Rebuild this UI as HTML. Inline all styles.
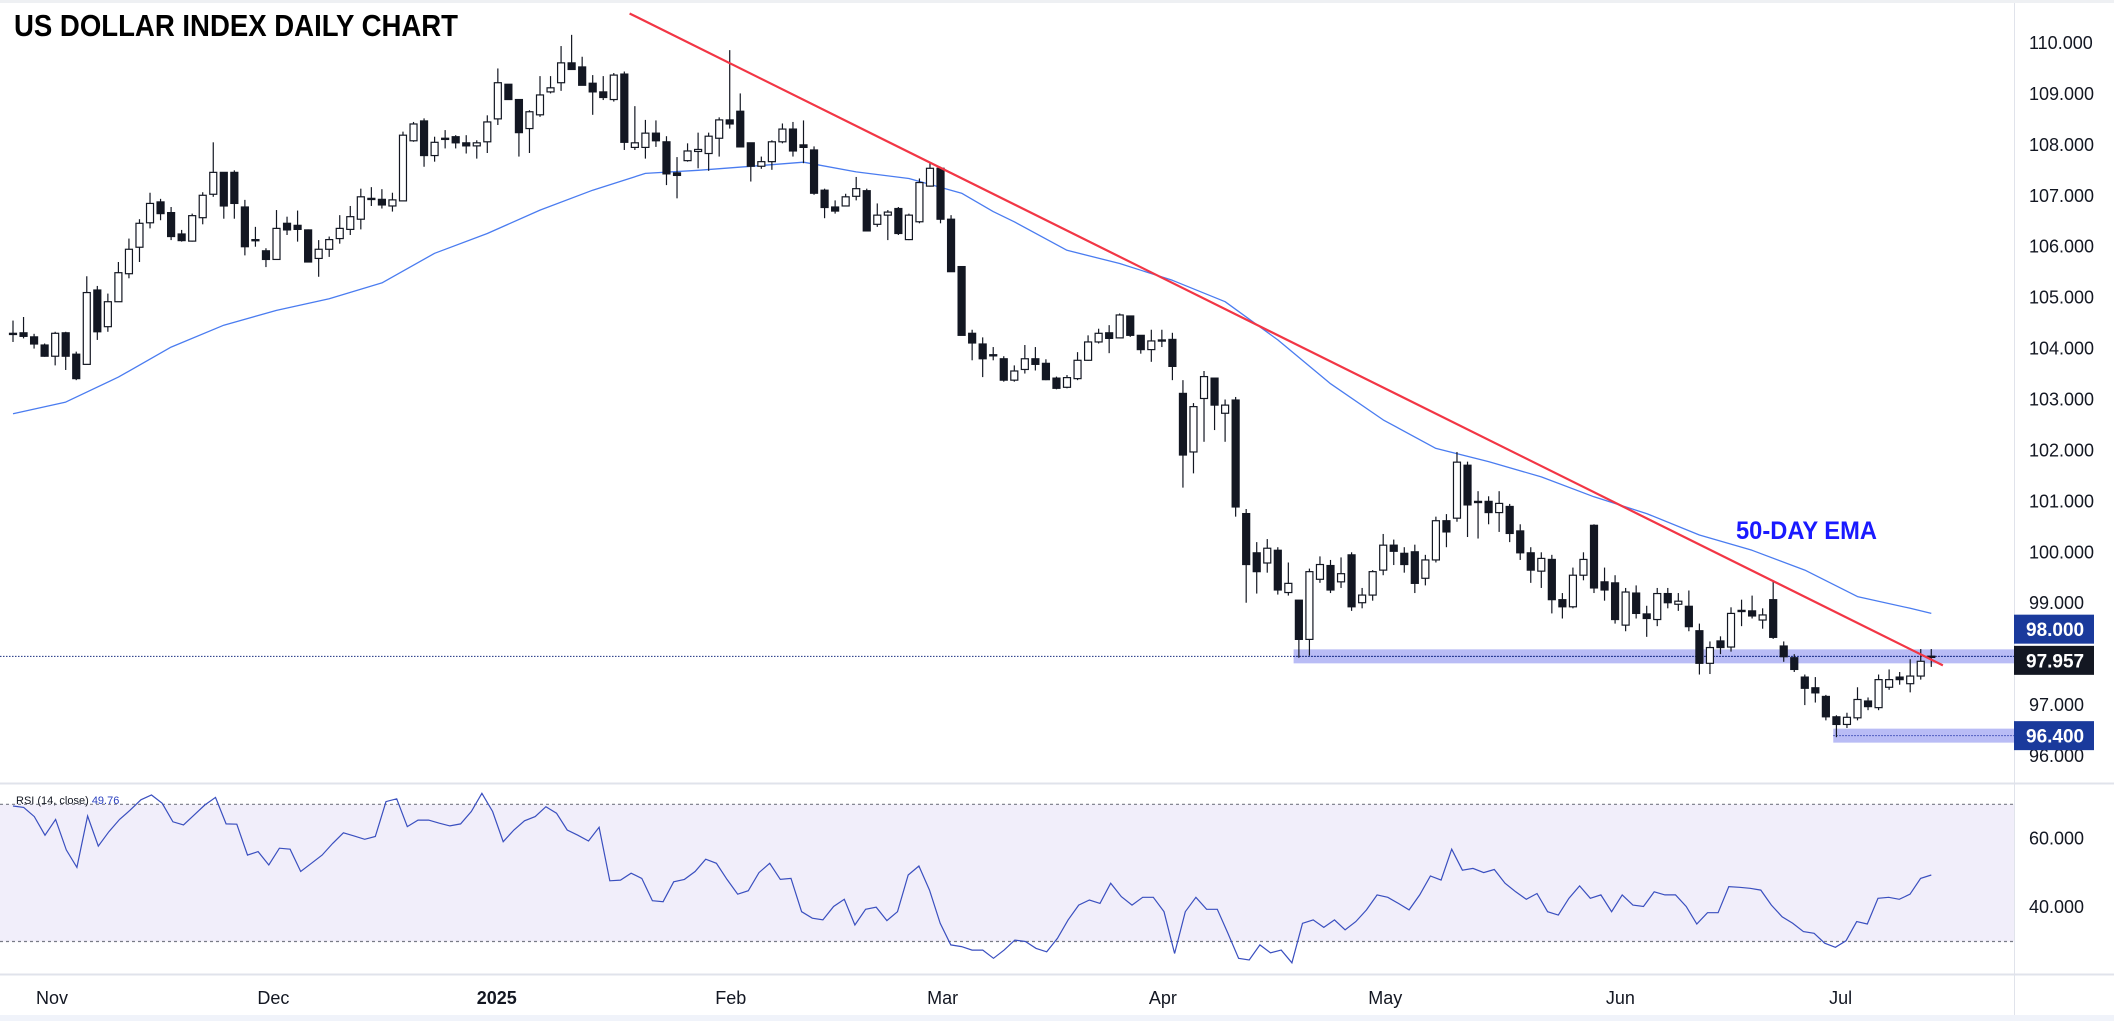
<!DOCTYPE html>
<html><head><meta charset="utf-8"><style>
html,body{margin:0;padding:0;background:#fff;width:2114px;height:1021px;overflow:hidden}
svg{display:block}
text{font-family:"Liberation Sans",sans-serif}
</style></head><body>
<svg id="chart" width="2114" height="1021" viewBox="0 0 2114 1021" xmlns="http://www.w3.org/2000/svg">
<rect x="0" y="0" width="2114" height="1021" fill="#fff"/>
<rect x="0" y="0" width="2114" height="3" fill="#eef0f3"/>
<rect x="0" y="1015" width="2114" height="6" fill="#f0f3fa"/>
<g id="rsiPane"></g>
<g id="pricePane"></g>
<line x1="0" y1="783.5" x2="2114" y2="783.5" stroke="#e0e3eb" stroke-width="2"/>
<line x1="0" y1="974.5" x2="2114" y2="974.5" stroke="#e0e3eb" stroke-width="2"/>
<line x1="2014.5" y1="3" x2="2014.5" y2="1015" stroke="#e0e3eb" stroke-width="1"/>
<text x="14" y="36" font-size="31" font-weight="bold" fill="#000" style="font-family:'Liberation Sans Narrow','Liberation Sans',sans-serif" textLength="444" lengthAdjust="spacingAndGlyphs">US DOLLAR INDEX DAILY CHART</text>
<text x="1736" y="539" font-size="25" font-weight="bold" fill="#1a1aff" style="font-family:'Liberation Sans Narrow','Liberation Sans',sans-serif" textLength="141" lengthAdjust="spacingAndGlyphs">50-DAY EMA</text>
<text x="16" y="804" font-size="11" fill="#131722">RSI (14, close) <tspan fill="#2a3fbf">49.76</tspan></text>
<g id="axes"></g>
</svg>
<script>
// ---- data ----
const opens=[104.30,104.31,104.23,104.07,103.85,104.31,103.89,103.69,105.15,104.43,104.92,105.47,105.99,106.47,106.88,106.67,106.25,106.11,106.57,107.03,107.46,107.46,106.78,106.14,105.92,105.75,106.46,106.42,106.33,105.77,105.95,106.16,106.34,106.54,106.95,106.93,106.80,106.90,108.08,108.47,107.79,108.13,108.16,108.04,107.98,108.06,108.51,109.19,108.89,108.32,108.59,109.04,109.22,109.61,109.53,109.21,109.04,108.89,109.39,107.95,107.95,108.23,108.06,107.45,107.69,107.87,107.83,108.13,108.49,108.66,108.04,107.58,107.67,108.06,108.31,108.00,107.90,107.11,106.78,106.80,106.99,107.10,106.44,106.62,106.75,106.14,106.49,107.19,107.54,106.54,105.61,104.30,104.09,103.88,103.80,103.38,103.59,103.80,103.71,103.42,103.24,103.41,103.77,104.13,104.31,104.21,104.64,104.26,103.98,104.16,104.18,103.12,101.97,103.02,103.42,102.73,102.99,100.76,99.99,99.79,100.04,99.21,99.06,98.29,99.47,99.74,99.42,99.95,99.01,99.16,99.65,100.14,99.98,100.01,99.49,99.85,100.62,100.67,101.71,100.99,101.00,100.78,100.90,100.42,99.99,99.63,99.86,99.07,98.93,99.55,100.53,99.42,99.40,98.57,99.20,98.79,98.68,99.19,98.98,98.94,98.46,97.82,98.26,98.14,98.86,98.85,98.67,99.07,98.16,97.93,97.55,97.34,97.17,96.77,96.62,96.75,97.08,96.95,97.35,97.55,97.42,97.57,97.96];
const highs=[104.55,104.62,104.29,104.10,104.33,104.33,103.94,105.42,105.23,105.08,105.70,106.16,106.54,107.06,106.94,106.78,106.33,106.65,107.07,108.05,107.46,107.50,106.92,106.39,105.97,106.72,106.59,106.71,106.34,106.13,106.20,106.62,106.80,107.14,107.17,107.13,107.06,108.26,108.45,108.52,108.16,108.29,108.19,108.19,108.09,108.58,109.50,109.19,108.89,108.68,109.35,109.35,109.94,110.16,109.73,109.37,109.35,109.41,109.44,108.76,108.49,108.48,108.17,107.76,108.03,108.24,108.24,108.54,109.86,109.01,108.04,107.77,108.09,108.42,108.45,108.48,107.97,107.14,106.91,107.04,107.37,107.14,106.85,106.72,106.78,106.65,107.34,107.64,107.57,106.62,105.61,104.37,104.22,104.03,103.85,103.67,104.07,104.03,103.79,103.45,103.48,103.93,104.26,104.39,104.46,104.69,104.64,104.26,104.37,104.37,104.31,103.38,102.93,103.56,103.42,103.00,103.05,100.85,100.20,100.26,100.10,99.80,99.06,99.68,99.92,99.85,99.90,100.00,99.30,99.65,100.36,100.25,100.10,100.15,99.95,100.70,100.75,101.97,101.78,101.20,101.10,101.20,100.95,100.55,100.10,100.00,99.95,99.20,99.70,100.00,100.55,99.70,99.55,99.30,99.35,98.95,99.30,99.30,99.20,99.25,98.60,98.25,98.35,98.92,99.07,99.15,98.90,99.43,98.25,98.00,97.60,97.55,97.20,96.80,96.85,97.35,97.15,97.60,97.70,97.65,97.90,98.10,98.10];
const lows=[104.13,104.20,104.00,103.84,103.67,103.58,103.38,103.69,104.17,104.33,104.92,105.38,105.70,106.36,106.52,106.13,106.10,106.10,106.44,106.98,106.55,106.55,105.83,106.00,105.60,105.75,106.23,106.10,105.69,105.41,105.80,106.06,106.23,106.34,106.80,106.75,106.69,106.90,108.06,107.57,107.67,107.93,107.93,107.83,107.73,107.84,108.39,108.89,107.77,107.84,108.55,109.01,109.06,109.47,109.17,108.59,108.88,108.85,107.90,107.90,107.73,107.96,107.21,106.95,107.67,107.54,107.49,107.77,108.32,107.96,107.28,107.53,107.51,108.03,107.77,107.64,107.02,106.56,106.65,106.79,106.91,106.31,106.39,106.13,106.23,106.13,106.46,107.18,106.46,105.51,104.26,103.77,103.44,103.77,103.35,103.35,103.51,103.57,103.38,103.20,103.22,103.38,103.76,104.10,103.91,104.20,104.23,103.90,103.74,104.03,103.38,101.27,101.55,102.17,102.40,102.17,100.70,99.01,99.19,99.60,99.17,99.15,97.93,97.97,99.40,99.20,99.30,98.85,98.90,99.05,99.55,99.75,99.60,99.20,99.35,99.80,100.10,100.60,100.30,100.27,100.55,100.40,100.20,99.85,99.40,99.30,98.80,98.70,98.90,99.45,99.20,99.05,98.60,98.45,98.70,98.34,98.55,98.90,98.85,98.45,97.60,97.61,98.00,98.05,98.55,98.70,98.50,98.30,97.85,97.65,97.00,97.05,96.70,96.37,96.55,96.70,96.90,96.90,97.30,97.40,97.25,97.50,97.75];
const closes=[104.30,104.24,104.09,103.85,104.30,103.85,103.41,105.10,104.33,104.92,105.49,105.95,106.46,106.85,106.65,106.20,106.12,106.61,107.01,107.46,106.80,106.85,106.00,106.14,105.75,106.36,106.33,106.34,105.70,105.95,106.14,106.36,106.59,106.98,106.93,106.82,106.92,108.19,108.41,107.79,108.05,108.13,108.04,107.98,108.04,108.45,109.22,108.89,108.24,108.65,108.98,109.12,109.61,109.48,109.17,109.04,108.93,109.37,108.05,108.04,108.23,108.08,107.43,107.40,107.88,107.91,108.17,108.49,108.41,107.96,107.58,107.67,108.06,108.31,107.88,107.95,107.05,106.77,106.70,106.98,107.14,106.31,106.62,106.68,106.26,106.62,107.26,107.54,106.54,105.51,104.26,104.11,103.80,103.88,103.38,103.56,103.80,103.69,103.39,103.22,103.43,103.77,104.13,104.30,104.20,104.66,104.26,103.98,104.15,104.17,103.65,101.91,102.86,103.45,102.89,102.89,100.89,99.76,99.62,100.08,99.26,99.39,98.29,99.62,99.76,99.26,99.58,98.93,99.16,99.62,100.14,100.02,99.76,99.39,99.85,100.62,100.40,101.77,100.93,101.00,100.78,100.96,100.37,99.99,99.65,99.88,99.07,98.93,99.55,99.86,99.30,99.26,98.68,99.22,98.80,98.70,99.19,99.01,99.04,98.54,97.82,98.13,98.13,98.80,98.85,98.75,98.77,98.33,97.95,97.70,97.33,97.24,96.77,96.62,96.76,97.11,96.97,97.50,97.50,97.50,97.57,97.86,97.96];
const emaIdx=[0,5,10,15,20,25,30,35,40,45,50,55,60,65,70,75,80,85,90,93,95,100,105,110,115,120,125,130,135,140,145,150,155,160,165,170,175,180,182];
const emaVals=[102.72,102.95,103.44,104.03,104.46,104.75,104.98,105.29,105.87,106.26,106.72,107.11,107.44,107.50,107.58,107.66,107.47,107.34,107.05,106.69,106.49,105.93,105.67,105.34,104.92,104.17,103.31,102.60,102.04,101.78,101.48,101.09,100.76,100.34,100.04,99.65,99.13,98.90,98.80];
const rsiVals=[69.5,69.1,66.4,61.0,65.6,56.7,51.6,66.6,57.8,62.0,65.6,68.3,71.3,72.7,70.3,64.9,64.0,66.9,69.8,72.0,64.3,64.2,55.2,56.2,52.3,57.2,56.9,50.4,52.8,55.2,58.6,61.7,60.8,59.8,60.6,70.8,71.6,63.5,65.4,65.4,64.5,63.7,64.3,67.9,73.2,67.9,59.1,62.5,65.2,66.4,69.3,67.4,62.5,61.0,59.3,63.3,47.7,47.9,49.9,48.4,41.9,41.6,47.4,48.1,50.4,54.0,52.8,48.1,43.8,44.8,50.1,52.8,48.1,48.4,38.7,36.8,36.3,40.2,42.3,34.8,39.4,40.0,36.1,38.7,49.4,52.0,45.0,35.3,29.0,28.5,27.5,27.5,25.1,27.5,30.4,30.0,28.0,27.0,30.9,36.3,40.6,42.1,41.1,47.0,43.1,40.6,42.9,42.9,38.7,26.5,38.7,42.9,39.4,39.4,32.4,25.1,24.6,29.0,26.7,27.5,23.8,35.3,36.3,34.1,36.3,33.4,35.8,39.2,43.6,42.9,41.1,39.2,43.6,49.1,47.9,56.9,50.8,51.3,50.1,51.0,47.0,44.5,42.3,44.0,38.7,37.7,42.6,46.2,42.6,43.6,38.7,43.6,40.6,40.2,44.5,43.6,43.6,40.2,35.1,38.4,38.4,46.0,45.8,45.5,45.0,40.6,37.2,35.3,32.9,32.4,29.5,28.3,30.2,35.8,35.1,42.6,42.9,42.3,43.8,48.4,49.4];
const trendIdx=[58.5,183.1];
const trendVals=[110.58,97.78];
const priceTicks=[110,109,108,107,106,105,104,103,102,101,100,99,97,96];
const rsiTicks=[60,40];
const rsiBands=[70,30];
const monthLabels=["Nov","Dec","2025","Feb","Mar","Apr","May","Jun","Jul"];
const monthIdx=[3.7,24.7,45.9,68.1,88.2,109.1,130.2,152.5,173.4];
const zoneVals=[97.957,96.40];
const zoneStartIdx=[121.5,172.7];
const lastClose=97.957;
const markerVals=[98.0,97.957,96.4];
const markerLabels=["98.000","97.957","96.400"];
const markerColors=["#1a3a9c","#131722","#1a3a9c"];

// ---- scales ----
const X0=13, STEP=10.54;
function xS(i){return X0+i*STEP;}
function yP(p){return 43+(110-p)*50.93;}
function yR(r){return 838.6-(r-60)*3.43;}
function xR(i){return xS(i*(opens.length-1)/(rsiVals.length-1));}
const NS="http://www.w3.org/2000/svg";
function mk(tag,attrs,parent){const e=document.createElementNS(NS,tag);for(const k in attrs)e.setAttribute(k,attrs[k]);parent.appendChild(e);return e;}
const price=document.getElementById('pricePane');
const rsiG=document.getElementById('rsiPane');
const axes=document.getElementById('axes');

// zones
for(let z=0;z<zoneVals.length;z++){
  const r=mk('rect',{x:xS(zoneStartIdx[z]),y:yP(zoneVals[z])-7,width:2014-xS(zoneStartIdx[z]),height:14,fill:'#b9bcf5'},price);
  
  
  const l=mk('line',{x1:xS(zoneStartIdx[z]),x2:2014,y1:yP(zoneVals[z]),y2:yP(zoneVals[z]),stroke:'#3040b0','stroke-width':1,'stroke-dasharray':'1.5 1.5'},price);
  
  
}
const lc=mk('line',{x1:0,x2:2014,y1:yP(lastClose),y2:yP(lastClose),stroke:'#1a2f80','stroke-width':1,'stroke-dasharray':'1.5 1.5'},price);



// EMA
let d='';
for(let k=0;k<emaIdx.length;k++){d+=(k?'L':'M')+xS(emaIdx[k]).toFixed(1)+' '+yP(emaVals[k]).toFixed(1);}
const ema=mk('path',{d:d,fill:'none',stroke:'#4a7cf0','stroke-width':1.3,'stroke-linejoin':'round'},price);



// candles
for(let i=0;i<opens.length;i++){
  const x=xS(i), o=opens[i], c=closes[i];
  const g=mk('g',{},price);
  
  
  mk('line',{x1:x,x2:x,y1:yP(highs[i]),y2:yP(lows[i]),stroke:'#131722','stroke-width':1.2},g);
  const top=yP(Math.max(o,c)), bot=yP(Math.min(o,c));
  const up=c>=o;
  mk('rect',{x:x-3.5,y:top,width:7,height:Math.max(1.2,bot-top),fill:up?'#fff':'#131722',stroke:'#131722','stroke-width':1.2},g);
}

// trendline
const tl=mk('line',{x1:xS(trendIdx[0]),y1:yP(trendVals[0]),x2:xS(trendIdx[1]),y2:yP(trendVals[1]),stroke:'#f23645','stroke-width':2.2},price);



// RSI pane
const band=mk('rect',{x:0,y:yR(rsiBands[0]),width:2014,height:yR(rsiBands[1])-yR(rsiBands[0]),fill:'#f1eefa'},rsiG);


for(const b of rsiBands){
  const l=mk('line',{x1:0,x2:2014,y1:yR(b),y2:yR(b),stroke:'#787b86','stroke-width':1.2,'stroke-dasharray':'3 3'},rsiG);
  
  
}
let rd='';
for(let k=0;k<rsiVals.length;k++){rd+=(k?'L':'M')+xR(k).toFixed(1)+' '+yR(rsiVals[k]).toFixed(1);}
const rl=mk('path',{d:rd,fill:'none',stroke:'#3a4fbf','stroke-width':1.2},rsiG);



// price axis labels
for(const t of priceTicks){
  const e=mk('text',{x:2029,y:yP(t)+6,'font-size':18,fill:'#131722'},axes);
  e.textContent=t.toFixed(3);
  
  
}
for(const t of rsiTicks){
  const e=mk('text',{x:2029,y:yR(t)+6,'font-size':18,fill:'#131722'},axes);
  e.textContent=t.toFixed(3);
  
  
}
// price markers (stacked so they don't overlap)
const markerOffsets=[-25,4,0];
for(let m=0;m<markerVals.length;m++){
  const yc=yP(markerVals[m])+markerOffsets[m];
  const g=mk('g',{},axes);
  
  
  mk('rect',{x:2014,y:yc-14.5,width:80,height:29,fill:markerColors[m]},g);
  const e=mk('text',{x:2026,y:yc+7,'font-size':19,'font-weight':'bold',fill:'#fff'},g);
  e.textContent=markerLabels[m];
}
// time axis
for(let k=0;k<monthLabels.length;k++){
  const e=mk('text',{x:xS(monthIdx[k]),y:1004,'font-size':18,fill:'#131722','text-anchor':'middle','font-weight':monthLabels[k]==='2025'?'bold':'normal'},axes);
  e.textContent=monthLabels[k];
  
  
}
</script>
</body></html>
